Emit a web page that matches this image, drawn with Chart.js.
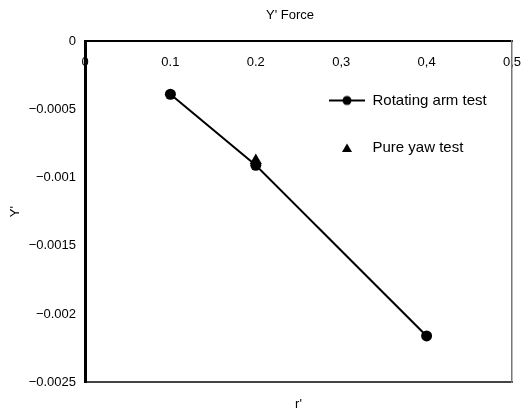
<!DOCTYPE html>
<html>
<head>
<meta charset="utf-8">
<script src="https://cdn.jsdelivr.net/npm/chart.js@4.4.1/dist/chart.umd.min.js"></script>
<style>
  html, body { margin: 0; padding: 0; background: #fff; }
  #wrap { width: 523px; height: 415px; }
</style>
</head>
<body>
<div id="wrap"><canvas id="chart" width="523" height="415"></canvas></div>
<script>
// values
const rotatingR = [0.1, 0.2, 0.4];
const rotatingY = [-0.00039, -0.00091, -0.00216];
const yawR = [0.2];
const yawY = [-0.000875];
const seriesNames = ['Rotating arm test', 'Pure yaw test'];
const xTickValues = [0, 0.1, 0.2, 0.3, 0.4, 0.5];
const xTickLabels = ['0', '0.1', '0.2', '0,3', '0,4', '0,5'];
const yTickValues = [0, -0.0005, -0.001, -0.0015, -0.002, -0.0025];
const yTickLabels = ['0', '\u22120.0005', '\u22120.001', '\u22120.0015', '\u22120.002', '\u22120.0025'];

Chart.defaults.font.family = '"Liberation Sans", Arial, sans-serif';
Chart.defaults.font.size = 13;
Chart.defaults.color = '#000';

const pick = (vals, labels) => (v) => {
  const i = vals.findIndex((t) => Math.abs(t - v) < 1e-9);
  return i >= 0 ? labels[i] : '';
};

// legend markers: line + dot, and a triangle
function marker(draw) {
  const c = document.createElement('canvas');
  c.width = 36; c.height = 14;
  const g = c.getContext('2d');
  g.fillStyle = g.strokeStyle = '#000';
  draw(g);
  return c;
}
const legendMarkers = [
  marker((g) => { g.lineWidth = 2; g.beginPath(); g.moveTo(0, 7); g.lineTo(36, 7); g.stroke(); g.beginPath(); g.arc(18, 7, 4.5, 0, Math.PI * 2); g.fill(); }),
  marker((g) => { g.beginPath(); g.moveTo(18, 2.5); g.lineTo(23, 11); g.lineTo(13, 11); g.closePath(); g.fill(); }),
];

// move legend into the plot, nudge title like the original
const placeBoxes = {
  id: 'placeBoxes',
  afterLayout(chart) {
    const a = chart.chartArea;
    const lg = chart.legend;
    if (lg) {
      const w = lg.right - lg.left, h = lg.bottom - lg.top;
      lg.left = a.left + 211.5; lg.top = a.top + 19.5;
      lg.right = lg.left + w; lg.bottom = lg.top + h;
    }
    const t = chart.titleBlock;
    if (t) { t.left += 34; t.right += 34; }
  },
};

const noGrid = { drawOnChartArea: false, drawTicks: false };
const noSidePad = (s) => { s.paddingLeft = 0; s.paddingRight = 0; };

new Chart(document.getElementById('chart'), {
  type: 'scatter',
  data: {
    datasets: [
      {
        label: seriesNames[0],
        data: rotatingR.map((r, i) => ({ x: r, y: rotatingY[i] })),
        showLine: true, borderColor: '#000', borderWidth: 2, backgroundColor: '#000',
        pointStyle: 'circle', pointRadius: 5.5, pointBorderWidth: 0,
        xAxisID: 'x', yAxisID: 'y',
      },
      {
        label: seriesNames[1],
        data: yawR.map((r, i) => ({ x: r, y: yawY[i] })),
        showLine: false, borderColor: '#000', backgroundColor: '#000',
        pointStyle: 'triangle', pointRadius: 7, pointBorderWidth: 0,
        xAxisID: 'x', yAxisID: 'y',
      },
    ],
  },
  options: {
    responsive: false, devicePixelRatio: 1, animation: false,
    layout: { padding: { left: 0, right: 11, top: 0, bottom: 0 } },
    scales: {
      x: {
        type: 'linear', position: { y: 0 }, min: 0, max: 0.5,
        afterBuildTicks: (s) => { s.ticks = xTickValues.map((v) => ({ value: v })); },
        ticks: { callback: pick(xTickValues, xTickLabels), padding: 14, maxRotation: 0, autoSkip: false },
        grid: noGrid,
        border: { color: '#000', width: 2 },
        afterFit: noSidePad,
      },
      x2: {
        type: 'linear', position: 'bottom', min: 0, max: 0.5,
        ticks: { display: false }, grid: noGrid,
        border: { color: '#444', width: 2 },
        title: { display: true, text: "r'", padding: { top: 14, bottom: 3 } },
        afterFit: noSidePad,
      },
      y: {
        type: 'linear', position: 'left', min: -0.0025, max: 0,
        afterBuildTicks: (s) => { s.ticks = yTickValues.slice().reverse().map((v) => ({ value: v })); },
        ticks: { callback: pick(yTickValues, yTickLabels), padding: 9 },
        grid: noGrid,
        border: { color: '#000', width: 3 },
        title: { display: true, text: "Y'", padding: { top: 8, bottom: 0 } },
        afterFit: (s) => { s.width = 85; },
      },
      y2: {
        type: 'linear', position: 'right', min: -0.0025, max: 0,
        ticks: { display: false }, grid: noGrid,
        border: { color: '#777', width: 1.5, dash: [2, 1] },
        afterFit: (s) => { s.width = 0; },
      },
    },
    plugins: {
      title: {
        display: true, text: "Y' Force", color: '#000',
        font: { size: 13, weight: 'normal' },
        padding: { top: 8, bottom: 17.4 },
      },
      legend: {
        position: 'chartArea', align: 'start',
        labels: {
          usePointStyle: true, pointStyleWidth: 36, padding: 32.5,
          font: { size: 15 }, color: '#000',
          generateLabels: (chart) => Chart.defaults.plugins.legend.labels.generateLabels(chart)
            .map((it, i) => ({ ...it, pointStyle: legendMarkers[i] })),
        },
      },
      tooltip: { enabled: false },
    },
  },
  plugins: [placeBoxes],
});
</script>
</body>
</html>
